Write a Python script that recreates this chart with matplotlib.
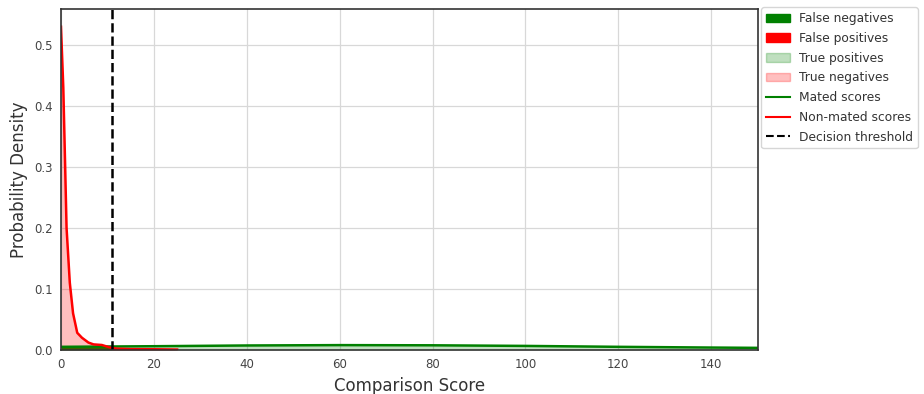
import numpy as np
import matplotlib.pyplot as plt
from matplotlib.patches import Patch
from matplotlib.lines import Line2D

# score grid and estimated densities
mated_x = [0, 10, 20, 40, 60, 80, 100, 120, 140, 150]
mated_y = [0.005, 0.0055, 0.006, 0.0072, 0.0078, 0.0075, 0.0065, 0.005, 0.0038, 0.0033]
nonmated_x = [0, 0.5, 0.9, 1.2, 1.9, 2.6, 3.5, 4.5, 5.9, 7.0, 8.8, 10.5, 12, 15, 20, 25]
nonmated_y = [0.53, 0.43, 0.30, 0.20, 0.11, 0.06, 0.028, 0.02, 0.012, 0.009, 0.008, 0.004, 0.002, 0.0012, 0.001, 0.0005]
threshold = 11

mx = np.array(mated_x, dtype=float)
my = np.array(mated_y)
nx = np.array(nonmated_x, dtype=float)
ny = np.array(nonmated_y)

fig, ax = plt.subplots(figsize=(9.24, 3.94), dpi=100)
fig.subplots_adjust(left=0.066, right=0.82, top=0.977, bottom=0.112)

# split the fills at the threshold
mxs = np.sort(np.append(mx, threshold))
mys = np.interp(mxs, mx, my)
nxs = np.sort(np.append(nx, threshold))
nys = np.interp(nxs, nx, ny)

ax.fill_between(mxs, 0, mys, where=mxs <= threshold, color='green', alpha=1.0, lw=0)
ax.fill_between(mxs, 0, mys, where=mxs >= threshold, color='green', alpha=0.25, lw=0)
ax.fill_between(nxs, 0, nys, where=nxs >= threshold, color='red', alpha=1.0, lw=0)
ax.fill_between(nxs, 0, nys, where=nxs <= threshold, color='red', alpha=0.25, lw=0)
ax.plot(mx, my, color='green', lw=1.8)
ax.plot(nx, ny, color='red', lw=1.8)
ax.axvline(threshold, color='black', ls='--', lw=1.8)

ax.set_xlim(0, 150)
ax.set_ylim(0, 0.559)
ax.set_xticks([0, 20, 40, 60, 80, 100, 120, 140])
ax.set_yticks([0.0, 0.1, 0.2, 0.3, 0.4, 0.5])
ax.grid(True, color='#d8d8d8', lw=0.9)
ax.set_axisbelow(True)
for s in ax.spines.values():
    s.set_color('#333333')
    s.set_linewidth(1.2)
ax.tick_params(labelsize=8.5, colors='#444444', length=0, pad=6)
ax.set_xlabel('Comparison Score', fontsize=12, color='#333333')
ax.set_ylabel('Probability Density', fontsize=12, color='#333333')

handles = [
    Patch(color='green', label='False negatives'),
    Patch(color='red', label='False positives'),
    Patch(color='green', alpha=0.25, label='True positives'),
    Patch(color='red', alpha=0.25, label='True negatives'),
    Line2D([], [], color='green', lw=1.5, label='Mated scores'),
    Line2D([], [], color='red', lw=1.5, label='Non-mated scores'),
    Line2D([], [], color='black', ls='--', lw=1.5, label='Decision threshold'),
]
leg = ax.legend(handles=handles, loc='upper left', bbox_to_anchor=(1.005, 1.005),
                fontsize=8.8, frameon=True, borderaxespad=0, handlelength=2.0,
                handletextpad=0.7, borderpad=0.4, labelspacing=0.55)
leg.get_frame().set_edgecolor('#cccccc')
for t in leg.get_texts():
    t.set_color('#333333')

fig.savefig('out.png', dpi=100)
